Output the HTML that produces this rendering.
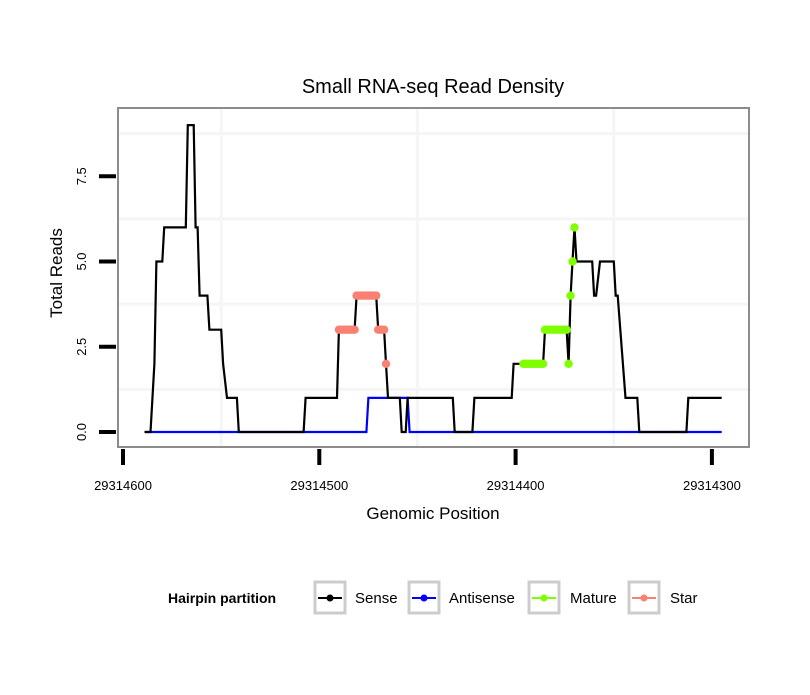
<!DOCTYPE html>
<html><head><meta charset="utf-8"><style>
body{margin:0;background:#fff;}
svg text{font-family:"Liberation Sans",sans-serif;}
</style></head><body>
<svg id="chart" width="810" height="690" xmlns="http://www.w3.org/2000/svg">
<rect width="810" height="690" fill="#fff"/>
<text x="433" y="93" font-size="20" text-anchor="middle">Small RNA-seq Read Density</text>
<g id="grid"></g>
<g id="marks"></g>
<rect x="118" y="108" width="631" height="339" fill="none" stroke="#8c8c8c" stroke-width="2"/>
<g id="axes"></g>
<text x="62" y="273" font-size="17" text-anchor="middle" transform="rotate(-90 62 273)">Total Reads</text>
<text x="433" y="519" font-size="17" text-anchor="middle">Genomic Position</text>
<g>
<text x="168" y="603" font-size="14" font-weight="bold">Hairpin partition</text>
<g>
<rect x="315" y="582" width="30" height="31" fill="#fff" stroke="#cccccc" stroke-width="3"/>
<line x1="318" y1="598" x2="342" y2="598" stroke="#000" stroke-width="2"/><circle cx="330" cy="598" r="3.5" fill="#000"/>
<text x="355" y="603" font-size="15">Sense</text></g>
<g>
<rect x="409" y="582" width="30" height="31" fill="#fff" stroke="#cccccc" stroke-width="3"/>
<line x1="412" y1="598" x2="436" y2="598" stroke="#0000ff" stroke-width="2"/><circle cx="424" cy="598" r="3.5" fill="#0000ff"/>
<text x="449" y="603" font-size="15">Antisense</text></g>
<g>
<rect x="529" y="582" width="30" height="31" fill="#fff" stroke="#cccccc" stroke-width="3"/>
<line x1="532" y1="598" x2="556" y2="598" stroke="#7fff00" stroke-width="2"/><circle cx="544" cy="598" r="3.5" fill="#7fff00"/>
<text x="570" y="603" font-size="15">Mature</text></g>
<g>
<rect x="629" y="582" width="30" height="31" fill="#fff" stroke="#cccccc" stroke-width="3"/>
<line x1="632" y1="598" x2="656" y2="598" stroke="#fa8072" stroke-width="2"/><circle cx="644" cy="598" r="3.5" fill="#fa8072"/>
<text x="670" y="603" font-size="15">Star</text></g>
</g>
</svg>
<script>
const BASE = 29314600;
const xTicks = [29314600, 29314500, 29314400, 29314300];
const xTickLabels = ["29314600", "29314500", "29314400", "29314300"];
const yTicks = [0, 2.5, 5, 7.5];
const yTickLabels = ["0.0", "2.5", "5.0", "7.5"];
const xGrid = [29314550, 29314450, 29314350];
const yGrid = [1.25, 3.75, 6.25, 8.75];
// positions are offsets below BASE (genomic coordinate = BASE - offset)
const senseOffsets = [11,14,16,17,20,21,32,33,36,37,38,39,43,44,50,51,53,58,59,92,93,109,110,118,119,129,130,133,134,135,141,142,144,145,168,169,178,179,198,199,214,215,226,227,228,229,230,231,239,240,241,243,250,251,252,256,262,263,287,288,305];
const senseValues  = [0,0,2,5,5,6,6,9,9,6,6,4,4,3,3,2,1,1,0,0,1,1,3,3,4,4,3,3,2,1,1,0,0,1,1,0,0,1,1,2,2,3,3,2,4,5,6,5,5,4,4,5,5,4,4,1,1,0,0,1,1];
const antiOffsets = [11,124,125,145,146,305];
const antiValues  = [0,0,1,1,0,0];
const starOffsets = [110,111,112,113,114,115,116,117,118,119,120,121,122,123,124,125,126,127,128,129,130,131,132,133,134];
const starValues  = [3,3,3,3,3,3,3,3,3,4,4,4,4,4,4,4,4,4,4,4,3,3,3,3,2];
const matureOffsets = [204,205,206,207,208,209,210,211,212,213,214,215,216,217,218,219,220,221,222,223,224,225,226,227,228,229,230];
const matureValues  = [2,2,2,2,2,2,2,2,2,2,2,3,3,3,3,3,3,3,3,3,3,3,3,2,4,5,6];

const NS = "http://www.w3.org/2000/svg";
function xs(pos){ return 123 + (BASE - pos) * 1.963; }
function ys(v){ return 432 - v * 34.1; }
function mk(tag, attrs, parent){ const e=document.createElementNS(NS,tag); for(const k in attrs) e.setAttribute(k,attrs[k]); parent.appendChild(e); return e; }
const grid=document.getElementById('grid'), marks=document.getElementById('marks'), axes=document.getElementById('axes');

xGrid.forEach(g=>{ const l=mk('line',{x1:xs(g),x2:xs(g),y1:109,y2:446,stroke:'#f5f5f5','stroke-width':3},grid);

 });
yGrid.forEach(g=>{ const l=mk('line',{x1:119,x2:748,y1:ys(g),y2:ys(g),stroke:'#f5f5f5','stroke-width':3},grid);

 });

function line(offs, vals, color, name){
  const pts = offs.map((o,i)=>xs(BASE-o).toFixed(1)+','+ys(vals[i]).toFixed(1)).join(' ');
  const p = mk('polyline',{points:pts,fill:'none',stroke:color,'stroke-width':2.2,'stroke-linejoin':'miter'},marks);
  
  
}
function dots(offs, vals, color, name){
  offs.forEach((o,i)=>{ const c=mk('circle',{cx:xs(BASE-o),cy:ys(vals[i]),r:4.2,fill:color},marks);
  
   });
}
line(antiOffsets, antiValues, '#0000ff', 'antisense-line');
line(senseOffsets, senseValues, '#000000', 'sense-line');
dots(starOffsets, starValues, '#fa8072', 'star-point');
dots(matureOffsets, matureValues, '#7fff00', 'mature-point');

xTicks.forEach((t,i)=>{
  const l=mk('line',{x1:xs(t),x2:xs(t),y1:449,y2:465,stroke:'#000','stroke-width':4},axes);
  
  
  const tx=mk('text',{x:xs(t),y:490,'font-size':13,'text-anchor':'middle'},axes);
  tx.textContent=xTickLabels[i];
  
  
});
yTicks.forEach((t,i)=>{
  const l=mk('line',{x1:99,x2:116,y1:ys(t),y2:ys(t),stroke:'#000','stroke-width':4},axes);
  
  
  const y=ys(t);
  const tx=mk('text',{x:86,y:y,'font-size':13,'text-anchor':'middle',transform:'rotate(-90 86 '+y+')'},axes);
  tx.textContent=yTickLabels[i];
  
  
});
</script>
</body></html>
